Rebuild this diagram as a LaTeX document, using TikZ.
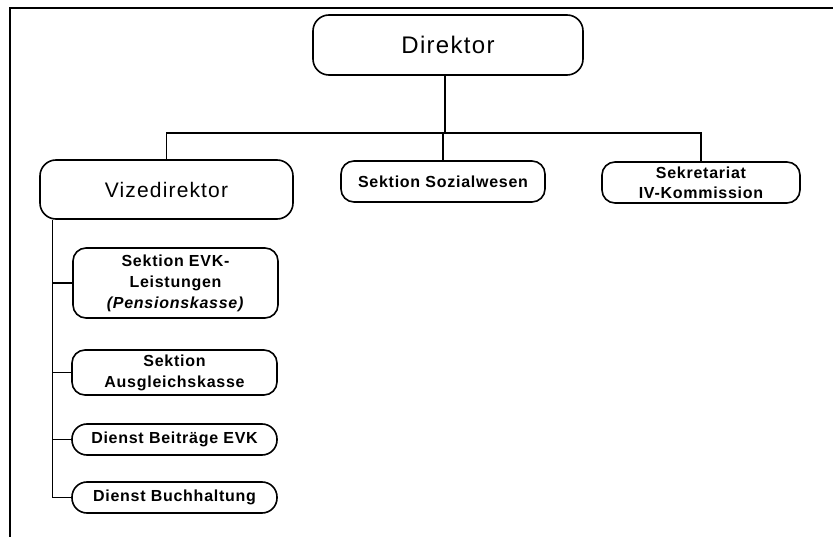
\documentclass[tikz,border=0pt]{standalone}
\usepackage{fontspec}
\setmainfont{Liberation Sans}
% slightly tracked sans for the box labels
\newfontfamily\boxfont[LetterSpace=4.6]{Liberation Sans}
\newfontfamily\headfont[LetterSpace=5.5]{Liberation Sans}
\begin{document}
\begin{tikzpicture}[x=1pt,y=-1pt,
  unit/.style={draw, line width=1.6pt, rounded corners=13pt, align=center,
    inner sep=0pt, font=\boxfont\fontsize{16}{21}\selectfont\bfseries},
  bigunit/.style={unit, rounded corners=16pt, font=\headfont\fontsize{24}{28}\selectfont},
  link/.style={line width=1.2pt}]
  \useasboundingbox (0,0) rectangle (833,537);
  % open frame: top and left edges only
  \draw[line width=1.6pt] (833,8) -- (10,8) -- (10,537);

  % top level
  \node[bigunit, minimum width=270pt, minimum height=60pt] (dir) at (448,45) {Direktor};

  % second level
  \node[bigunit, font=\headfont\fontsize{21}{26}\selectfont, minimum width=253pt, minimum height=59pt] (vize) at (166.5,189.5) {Vizedirektor};
  \node[unit, minimum width=204pt, minimum height=41pt] (sozial) at (443,181.5) {Sektion Sozialwesen};
  \node[unit, minimum width=198pt, minimum height=41pt, font=\boxfont\fontsize{16}{20}\selectfont\bfseries] (sekr) at (701,182.5) {Sekretariat\\IV-Kommission};

  % units under the vice director
  \node[unit, minimum width=205pt, minimum height=70pt] (evk) at (175.5,283) {Sektion EVK-\\Leistungen\\\textit{(Pensionskasse)}};
  \node[unit, minimum width=205pt, minimum height=45pt] (ausgl) at (174.5,372.5) {Sektion\\Ausgleichskasse};
  \node[unit, rounded corners=15pt, minimum width=205pt, minimum height=31pt] (beitr) at (174.5,439.5) {Dienst Beiträge EVK};
  \node[unit, rounded corners=15pt, minimum width=205pt, minimum height=31pt] (buch) at (174.5,497.5) {Dienst Buchhaltung};

  % connectors from the director
  \coordinate (bus) at (445,133);
  \draw[link] (dir.south -| bus) -- (bus);
  \draw[link] (vize.north) |- (bus) -| (sekr.north);
  \draw[link] (sozial.north) -- (sozial.north |- bus);

  % spine below the vice director
  \coordinate (spine) at ([xshift=13pt]vize.south west);
  \draw[link] (spine) |- (buch.west);
  \draw[link] (spine |- evk.west) -- (evk.west);
  \draw[link] (spine |- ausgl.west) -- (ausgl.west);
  \draw[link] (spine |- beitr.west) -- (beitr.west);
\end{tikzpicture}
\end{document}
